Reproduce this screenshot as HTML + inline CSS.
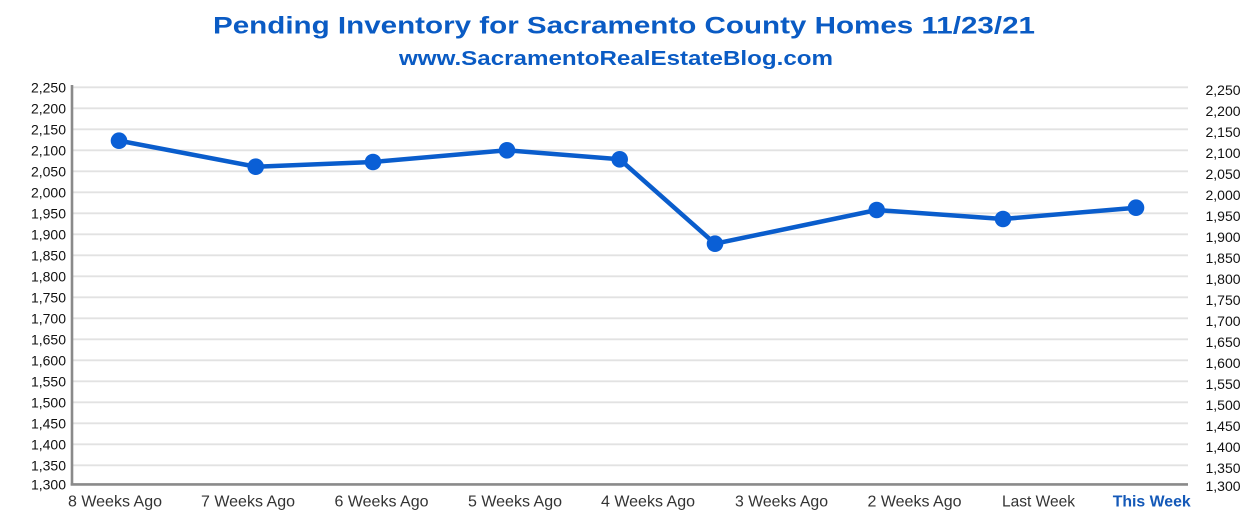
<!DOCTYPE html>
<html>
<head>
<meta charset="utf-8">
<style>
  html,body{margin:0;padding:0;background:#fff;}
  svg{display:block;}
  text{font-family:"Liberation Sans", sans-serif;}
</style>
</head>
<body>
<svg width="1260" height="532" viewBox="0 0 1260 532" xmlns="http://www.w3.org/2000/svg">
  <rect width="1260" height="532" fill="#fff"/>
  <!-- Titles -->
  <text x="624" y="33.5" text-anchor="middle" font-size="24" font-weight="bold" fill="#0a5bc4" textLength="822" lengthAdjust="spacingAndGlyphs">Pending Inventory for Sacramento County Homes 11/23/21</text>
  <text x="616" y="65" text-anchor="middle" font-size="20" font-weight="bold" fill="#0a5bc4" textLength="434" lengthAdjust="spacingAndGlyphs">www.SacramentoRealEstateBlog.com</text>

  <!-- Gridlines -->
  <g stroke="#e2e2e2" stroke-width="1.8">
    <line x1="72" x2="1188" y1="87.3" y2="87.3"/>
    <line x1="72" x2="1188" y1="108.3" y2="108.3"/>
    <line x1="72" x2="1188" y1="129.3" y2="129.3"/>
    <line x1="72" x2="1188" y1="150.3" y2="150.3"/>
    <line x1="72" x2="1188" y1="171.3" y2="171.3"/>
    <line x1="72" x2="1188" y1="192.3" y2="192.3"/>
    <line x1="72" x2="1188" y1="213.3" y2="213.3"/>
    <line x1="72" x2="1188" y1="234.3" y2="234.3"/>
    <line x1="72" x2="1188" y1="255.3" y2="255.3"/>
    <line x1="72" x2="1188" y1="276.3" y2="276.3"/>
    <line x1="72" x2="1188" y1="297.3" y2="297.3"/>
    <line x1="72" x2="1188" y1="318.3" y2="318.3"/>
    <line x1="72" x2="1188" y1="339.3" y2="339.3"/>
    <line x1="72" x2="1188" y1="360.3" y2="360.3"/>
    <line x1="72" x2="1188" y1="381.3" y2="381.3"/>
    <line x1="72" x2="1188" y1="402.3" y2="402.3"/>
    <line x1="72" x2="1188" y1="423.3" y2="423.3"/>
    <line x1="72" x2="1188" y1="444.3" y2="444.3"/>
    <line x1="72" x2="1188" y1="465.3" y2="465.3"/>
  </g>
  <!-- Axes -->
  <line x1="72" x2="72" y1="85" y2="485.5" stroke="#8a8a8a" stroke-width="2.6"/>
  <line x1="70.7" x2="1188" y1="484.4" y2="484.4" stroke="#8a8a8a" stroke-width="2.6"/>

  <!-- Left labels -->
  <g font-size="14" fill="#111" text-anchor="end">
    <text x="66" y="92.3">2,250</text>
    <text x="66" y="113.3">2,200</text>
    <text x="66" y="134.3">2,150</text>
    <text x="66" y="155.3">2,100</text>
    <text x="66" y="176.3">2,050</text>
    <text x="66" y="197.3">2,000</text>
    <text x="66" y="218.3">1,950</text>
    <text x="66" y="239.3">1,900</text>
    <text x="66" y="260.3">1,850</text>
    <text x="66" y="281.3">1,800</text>
    <text x="66" y="302.3">1,750</text>
    <text x="66" y="323.3">1,700</text>
    <text x="66" y="344.3">1,650</text>
    <text x="66" y="365.3">1,600</text>
    <text x="66" y="386.3">1,550</text>
    <text x="66" y="407.3">1,500</text>
    <text x="66" y="428.3">1,450</text>
    <text x="66" y="449.3">1,400</text>
    <text x="66" y="470.3">1,350</text>
    <text x="66" y="489.3">1,300</text>
  </g>
  <!-- Right labels -->
  <g font-size="14" fill="#111" text-anchor="start">
    <text x="1205.5" y="95">2,250</text>
    <text x="1205.5" y="116">2,200</text>
    <text x="1205.5" y="137">2,150</text>
    <text x="1205.5" y="158">2,100</text>
    <text x="1205.5" y="179">2,050</text>
    <text x="1205.5" y="200">2,000</text>
    <text x="1205.5" y="221">1,950</text>
    <text x="1205.5" y="242">1,900</text>
    <text x="1205.5" y="263">1,850</text>
    <text x="1205.5" y="284">1,800</text>
    <text x="1205.5" y="305">1,750</text>
    <text x="1205.5" y="326">1,700</text>
    <text x="1205.5" y="347">1,650</text>
    <text x="1205.5" y="368">1,600</text>
    <text x="1205.5" y="389">1,550</text>
    <text x="1205.5" y="410">1,500</text>
    <text x="1205.5" y="431">1,450</text>
    <text x="1205.5" y="452">1,400</text>
    <text x="1205.5" y="473">1,350</text>
    <text x="1205.5" y="491">1,300</text>
  </g>

  <!-- X labels -->
  <g font-size="16" fill="#333" text-anchor="middle">
    <text x="115" y="506.5" textLength="94" lengthAdjust="spacingAndGlyphs">8 Weeks Ago</text>
    <text x="248" y="506.5" textLength="94" lengthAdjust="spacingAndGlyphs">7 Weeks Ago</text>
    <text x="381.5" y="506.5" textLength="94" lengthAdjust="spacingAndGlyphs">6 Weeks Ago</text>
    <text x="515" y="506.5" textLength="94" lengthAdjust="spacingAndGlyphs">5 Weeks Ago</text>
    <text x="648" y="506.5" textLength="94" lengthAdjust="spacingAndGlyphs">4 Weeks Ago</text>
    <text x="781.5" y="506.5" textLength="93" lengthAdjust="spacingAndGlyphs">3 Weeks Ago</text>
    <text x="914.5" y="506.5" textLength="94" lengthAdjust="spacingAndGlyphs">2 Weeks Ago</text>
    <text x="1038.5" y="506.5" textLength="73" lengthAdjust="spacingAndGlyphs">Last Week</text>
    <text x="1151.7" y="506.5" textLength="78" lengthAdjust="spacingAndGlyphs" font-weight="bold" fill="#1459b8">This Week</text>
  </g>

  <!-- Series -->
  <polyline fill="none" stroke="#0a5dcc" stroke-width="4.5" stroke-linejoin="round" stroke-linecap="round"
    points="119,140.7 255.7,166.7 373,162 507,150.3 619.7,159.3 715,243.7 876.7,210 1003,219 1136,207.7"/>
  <g fill="#0a5fd6">
    <circle cx="119" cy="140.7" r="8.3"/>
    <circle cx="255.7" cy="166.7" r="8.3"/>
    <circle cx="373" cy="162" r="8.3"/>
    <circle cx="507" cy="150.3" r="8.3"/>
    <circle cx="619.7" cy="159.3" r="8.3"/>
    <circle cx="715" cy="243.7" r="8.3"/>
    <circle cx="876.7" cy="210" r="8.3"/>
    <circle cx="1003" cy="219" r="8.3"/>
    <circle cx="1136" cy="207.7" r="8.3"/>
  </g>
</svg>
</body>
</html>
